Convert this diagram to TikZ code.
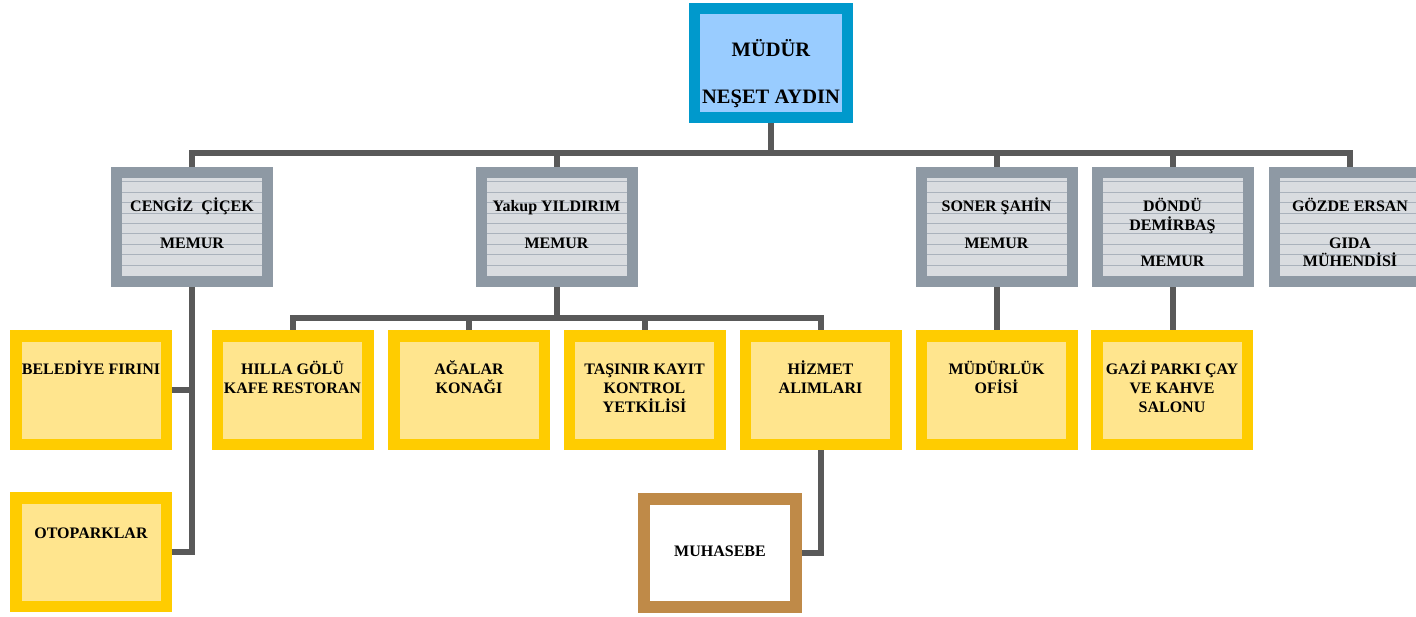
\documentclass[tikz,border=0pt]{standalone}
\usepackage{fontspec}
\setmainfont{Liberation Serif}
\usetikzlibrary{backgrounds}
\definecolor{conncol}{HTML}{595959}
\definecolor{topborder}{HTML}{0099CC}
\definecolor{topfill}{HTML}{99CCFF}
\definecolor{greyborder}{HTML}{8E99A4}
\definecolor{greyfill}{HTML}{D9DCE0}
\definecolor{greystripe}{HTML}{AAB2BC}
\definecolor{yelborder}{HTML}{FFCC00}
\definecolor{yelfill}{HTML}{FFE58E}
\definecolor{brownborder}{HTML}{BF8A48}
\newcommand\Zs{\rule{0pt}{14pt}}
\newcommand\Zb{\rule{0pt}{17pt}}
\tikzset{
  conn/.style={draw=conncol, line width=6pt, line join=miter},
  topbox/.style={draw=topborder, fill=topfill, line width=11pt, minimum width=153pt, minimum height=109pt, inner sep=0pt, outer sep=0pt},
  greybox/.style={draw=greyborder, fill=greyfill, line width=11pt, minimum width=151pt, minimum height=109pt, inner sep=0pt, outer sep=0pt,
    path picture={\foreach \k in {0,...,8}{\pgfmathsetmacro\yy{-9.2-10.4*\k}
      \draw[greystripe, line width=0.8pt] ([yshift=\yy pt]path picture bounding box.north west) -- ([yshift=\yy pt]path picture bounding box.north east);}}},
  yelbox/.style={draw=yelborder, fill=yelfill, line width=11.5pt, minimum width=150.5pt, minimum height=108.5pt, inner sep=0pt, outer sep=0pt},
  brownbox/.style={draw=brownborder, fill=white, line width=12pt, minimum width=152pt, minimum height=108pt, inner sep=0pt, outer sep=0pt},
  gtxt/.style={font=\bfseries\fontsize{16}{18.3}\selectfont, align=center, inner sep=0pt, anchor=north},
  ytxt/.style={font=\bfseries\fontsize{16}{19}\selectfont, align=center, inner sep=0pt, anchor=north},
  ttxt/.style={font=\bfseries\fontsize{20.5}{23}\selectfont, align=center, inner sep=0pt, anchor=north},
}
\begin{document}
\begin{tikzpicture}[x=1pt,y=-1pt]
\useasboundingbox (0,0) rectangle (1416,616);
\clip (0,0) rectangle (1416,616);
% boxes
\node[topbox] (mudur) at (771,63) {};
\node[greybox] (cengiz) at (192,227) {};
\node[greybox] (yakup) at (556.5,227) {};
\node[greybox] (soner) at (996.5,227) {};
\node[greybox] (dondu) at (1172.5,227) {};
\node[greybox] (gozde) at (1350,227) {};
\node[yelbox] (belediye) at (91,390) {};
\node[yelbox] (hilla) at (292.5,390) {};
\node[yelbox] (agalar) at (469,390) {};
\node[yelbox] (tasinir) at (644.5,390) {};
\node[yelbox] (hizmet) at (820.5,390) {};
\node[yelbox] (mudurluk) at (996.5,390) {};
\node[yelbox] (gazi) at (1172,390) {};
\node[yelbox] (otopark) at (91,552) {};
\node[brownbox] (muhasebe) at (720,553) {};
% texts
\node[ttxt] (t-mudur) at (771,39) {\Zb MÜDÜR\\[24pt]NEŞET AYDIN};
\node[gtxt] (t-cengiz) at (192,197.5) {\Zs CENGİZ\ \ ÇİÇEK\\[18.3pt]MEMUR};
\node[gtxt] (t-yakup) at (556.5,197.5) {\Zs Yakup YILDIRIM\\[18.3pt]MEMUR};
\node[gtxt] (t-soner) at (996.5,197.5) {\Zs SONER ŞAHİN\\[18.3pt]MEMUR};
\node[gtxt] (t-dondu) at (1172.5,197.5) {\Zs DÖNDÜ\\DEMİRBAŞ\\[18.3pt]MEMUR};
\node[gtxt] (t-gozde) at (1350,197.5) {\Zs GÖZDE ERSAN\\[18.3pt]GIDA\\MÜHENDİSİ};
\node[ytxt] (t-belediye) at (91,360.5) {\Zs BELEDİYE FIRINI};
\node[ytxt] (t-hilla) at (292.5,360.5) {\Zs HILLA GÖLÜ\\KAFE RESTORAN};
\node[ytxt] (t-agalar) at (469,360.5) {\Zs AĞALAR\\KONAĞI};
\node[ytxt] (t-tasinir) at (644.5,360.5) {\Zs TAŞINIR KAYIT\\KONTROL\\YETKİLİSİ};
\node[ytxt] (t-hizmet) at (820.5,360.5) {\Zs HİZMET\\ALIMLARI};
\node[ytxt] (t-mudurluk) at (996.5,360.5) {\Zs MÜDÜRLÜK\\OFİSİ};
\node[ytxt] (t-gazi) at (1172,360.5) {\Zs GAZİ PARKI ÇAY\\VE KAHVE\\SALONU};
\node[ytxt] (t-otopark) at (91,524.5) {\Zs OTOPARKLAR};
\node[ytxt] (t-muhasebe) at (720,542.5) {\Zs MUHASEBE};
% connectors
\coordinate (bar) at (0,152.5);
\coordinate (ybar) at (0,317.5);
\begin{pgfonlayer}{background}
\draw[conn] (mudur.south) -- (mudur.south |- bar);
\draw[conn] (cengiz.north) -- (cengiz.north |- bar) -- (gozde.north |- bar) -- (gozde.north);
\draw[conn] (yakup.north |- bar) -- (yakup.north);
\draw[conn] (soner.north |- bar) -- (soner.north);
\draw[conn] (dondu.north |- bar) -- (dondu.north);
\draw[conn] (cengiz.south) |- (otopark.east);
\draw[conn] (belediye.east) -- (belediye.east -| cengiz.south);
\draw[conn] (yakup.south) -- (yakup.south |- ybar);
\draw[conn] (hilla.north) -- (hilla.north |- ybar) -- (hizmet.north |- ybar) -- (hizmet.north);
\draw[conn] (agalar.north |- ybar) -- (agalar.north);
\draw[conn] (tasinir.north |- ybar) -- (tasinir.north);
\draw[conn] (hizmet.south) |- (muhasebe.east);
\draw[conn] (soner.south) -- (mudurluk.north);
\draw[conn] (dondu.south) -- (dondu.south |- gazi.north);
\end{pgfonlayer}
\end{tikzpicture}
\end{document}
